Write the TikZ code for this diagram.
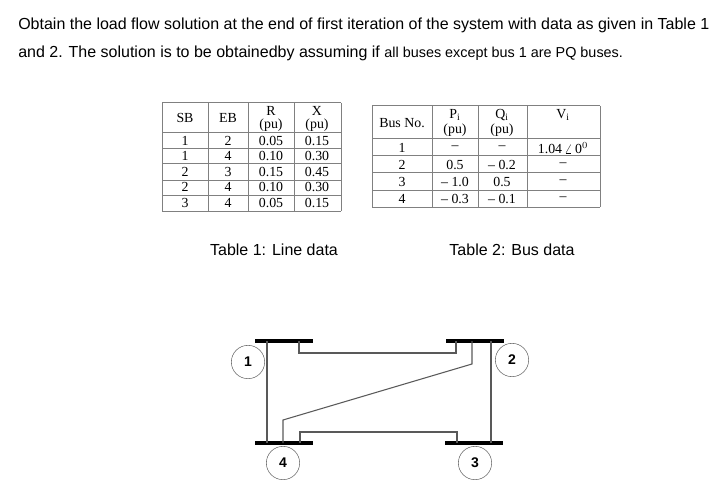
\documentclass[tikz,border=0pt]{standalone}
\usepackage{amsmath}
\usepackage{fontspec}
\setmainfont{Liberation Serif}
\newfontfamily\arialfont{Liberation Sans}
\usetikzlibrary{calc}

\begin{document}
\begin{tikzpicture}[
        x=0.75pt, y=-0.75pt,
        question/.style={anchor=base west, inner sep=0pt, font=\arialfont\fontsize{12}{14}\selectfont},
        caption/.style={inner sep=0pt, font=\arialfont\fontsize{12}{14}\selectfont},
        cell/.style={inner sep=0pt, align=center, font=\fontsize{10.4}{12.4}\selectfont},
        gridline/.style={draw=black!50, line width=0.75pt},
        busbar/.style={fill=black, inner sep=0pt, minimum width=43pt, minimum height=3pt},
        busno/.style={draw=black!60, circle, fill=white, inner sep=0pt, minimum size=25pt, font=\arialfont\bfseries\fontsize{10.5}{12}\selectfont},
        feeder/.style={draw=black!65, line width=0.8pt},
    ]
        \useasboundingbox (0,0) rectangle (724,499);

        % --- Question text ---
        \node[question] (line1) at (18,30) {Obtain the load flow solution at the end of first iteration of the system with data as given in Table 1};
        \node[question] (line2) at (18,58) {and 2. The solution is to be obtainedby assuming if {\fontsize{10.8}{14}\selectfont all buses except bus 1 are PQ buses.}};

        % --- Table 1 ---
        \foreach \yy in {103, 133, 149, 164, 180, 195, 211} {
            \draw[gridline] (162,\yy) -- (341,\yy);
        }
        \foreach \xx in {162, 208, 248, 294, 341} {
            \draw[gridline] (\xx,103) -- (\xx,211);
        }
        \node[cell] (sbhead) at (185,118) {SB};
        \node[cell] (ebhead) at (228,118) {EB};
        \node[cell] (rhead) at (271,119) {R\\[-2.5pt](pu)};
        \node[cell] (xhead) at (317,119) {X\\[-2.5pt](pu)};
        \foreach \yy/\sbus/\ebus/\rval/\xval [count=\i] in {141/1/2/0.05/0.15, 156/1/4/0.10/0.30, 172/2/3/0.15/0.45, 187/2/4/0.10/0.30, 203/3/4/0.05/0.15} {
            \node[cell] (sb\i) at (185,\yy) {\sbus};
            \node[cell] (eb\i) at (228,\yy) {\ebus};
            \node[cell] (r\i) at (271,\yy) {\rval};
            \node[cell] (x\i) at (317,\yy) {\xval};
        }

        % --- Table 2 ---
        \foreach \yy in {106, 139, 156, 173, 190, 207} {
            \draw[gridline] (372,\yy) -- (600,\yy);
        }
        \foreach \xx in {372, 432, 478, 527, 600} {
            \draw[gridline] (\xx,106) -- (\xx,207);
        }
        \node[cell] (nohead) at (402,123) {Bus No.};
        \node[cell] (phead) at (455,123) {P$_{\mathrm{i}}$\\[-1pt](pu)};
        \node[cell] (qhead) at (502,123) {Q$_{\mathrm{i}}$\\[-1pt](pu)};
        \node[cell] (vhead) at (563,115) {V$_{\mathrm{i}}$};
        \foreach \yy/\busid/\pval/\qval/\vval [count=\i] in {148/1/--/--/{1.04\,$\angle$\,0$^{0}$}, 165/2/0.5/-- 0.2/--, 182/3/-- 1.0/0.5/--, 199/4/-- 0.3/-- 0.1/--} {
            \node[cell] (no\i) at (402,\yy) {\busid};
            \node[cell] (p\i) at (455,\yy) {\pval};
            \node[cell] (q\i) at (502,\yy) {\qval};
            \node[cell] (v\i) at (563,\yy) {\vval};
        }

        % --- Captions ---
        \node[caption] (cap1) at (274,250) {Table 1: Line data};
        \node[caption] (cap2) at (512,250) {Table 2: Bus data};

        % --- Bus bars ---
        \node[busbar] (bus1) at (284,341) {};
        \node[busbar] (bus2) at (475,341) {};
        \node[busbar] (bus3) at (474,443) {};
        \node[busbar] (bus4) at (284,443) {};

        % --- Lines between the buses ---
        \draw[feeder] ($(bus1)+(-17,0)$) -- ($(bus4)+(-17,0)$);
        \draw[feeder] ($(bus2)+(16,0)$) -- ($(bus3)+(17,0)$);
        \draw[feeder] ($(bus1)+(15,0)$) -- ($(bus1)+(15,12)$) -- ($(bus2)+(-19,12)$) -- ($(bus2)+(-19,0)$);
        \draw[feeder] ($(bus4)+(16,0)$) -- ($(bus4)+(16,-11)$) -- ($(bus3)+(-17,-11)$) -- ($(bus3)+(-17,0)$);
        \draw[feeder] ($(bus2)+(-3,0)$) -- ($(bus2)+(-3,23)$) -- ($(bus4)+(-1,-23)$) -- ($(bus4)+(-1,0)$);

        % --- Bus numbers ---
        \node[busno] (no1c) at (248,362) {1};
        \node[busno] (no2c) at (512,360) {2};
        \node[busno] (no3c) at (475,463) {3};
        \node[busno] (no4c) at (283,463) {4};
    \end{tikzpicture}
\end{document}
